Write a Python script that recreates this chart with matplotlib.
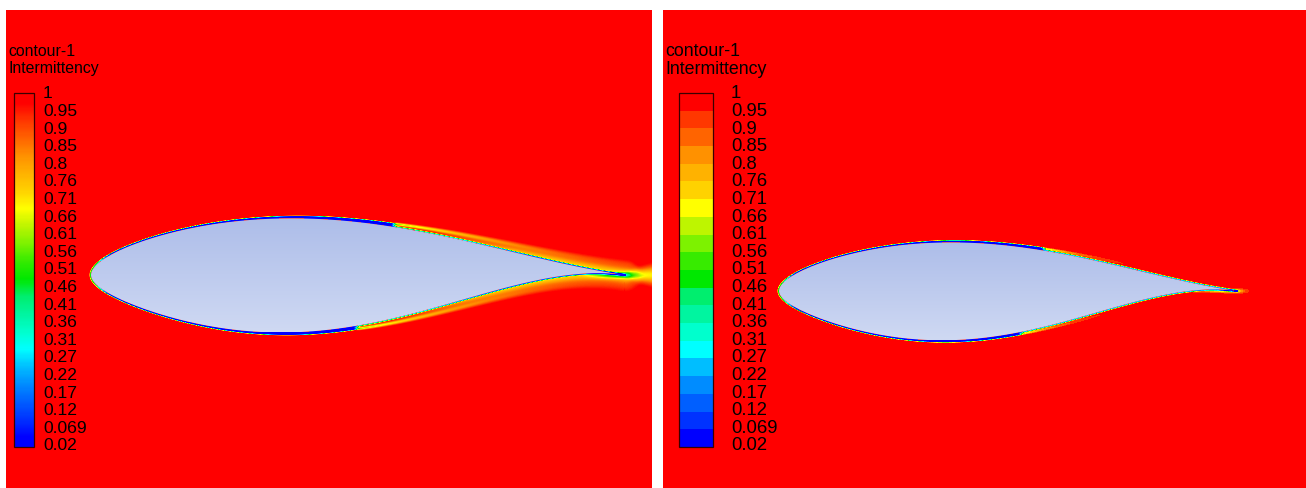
import numpy as np
import matplotlib
matplotlib.use("Agg")
import matplotlib.pyplot as plt
from matplotlib.colors import ListedColormap, LinearSegmentedColormap, BoundaryNorm, Normalize
from matplotlib.patches import Polygon, Rectangle
from matplotlib.path import Path

plt.rcParams['font.family'] = ['Liberation Sans', 'DejaVu Sans']

# ---- legend levels -------------------------------------------------------
levels = [0.02, 0.069, 0.12, 0.17, 0.22, 0.27, 0.31, 0.36, 0.41, 0.46, 0.51,
          0.56, 0.61, 0.66, 0.71, 0.76, 0.8, 0.85, 0.9, 0.95, 1.0]
level_labels = ["0.02", "0.069", "0.12", "0.17", "0.22", "0.27", "0.31", "0.36",
                "0.41", "0.46", "0.51", "0.56", "0.61", "0.66", "0.71", "0.76",
                "0.8", "0.85", "0.9", "0.95", "1"]
legend_title = ["contour-1", "Intermittency"]

# colour of each contour band, lowest first
band_colors = [(0, 0, 255), (0, 50, 255), (0, 95, 255), (0, 140, 255),
               (0, 190, 255), (0, 255, 255), (0, 255, 205), (0, 245, 160),
               (0, 238, 110), (0, 232, 0), (55, 235, 0), (125, 242, 0),
               (190, 245, 0), (255, 255, 0), (255, 210, 0), (255, 178, 0),
               (255, 145, 0), (255, 100, 0), (255, 55, 0), (255, 0, 0)]

# ---- profile geometry (x/c, y/c) -----------------------------------------
upper_x = [0.068, 0.177, 0.286, 0.41, 0.504, 0.57, 0.686, 0.832, 1.0]
upper_y = [0.052, 0.087, 0.100, 0.105, 0.100, 0.092, 0.063, 0.035, 0.0]
lower_x = [0.068, 0.177, 0.286, 0.367, 0.467, 0.541, 0.686, 0.832, 1.0]
lower_y = [-0.052, -0.085, -0.103, -0.109, -0.103, -0.085, -0.046, -0.013, 0.0]

# transition onset (x/c) on the upper / lower surface for the two cases
transition_left = (0.56, 0.49)
transition_right = (0.57, 0.52)

FIG_W, FIG_H = 1306, 488


def smooth(e0, e1, x):
    t = np.clip((x - e0) / (e1 - e0), 0, 1)
    return t * t * (3 - 2 * t)


def fit_surface(xc, yc, xs):
    xc = np.asarray(xc, float)
    yc = np.asarray(yc, float)

    def basis(x):
        return np.column_stack([np.sqrt(x), x, x**2, x**3, x**4])
    w = np.ones_like(xc)
    w[-1] = 10.0
    coef, *_ = np.linalg.lstsq(basis(xc) * w[:, None], yc * w, rcond=None)
    return basis(xs) @ coef


def outline(le, chord):
    xs = 0.5 * (1 - np.cos(np.linspace(0, np.pi, 140)))
    yu = fit_surface(upper_x, upper_y, xs)
    yl = fit_surface(lower_x, lower_y, xs)
    yu[0] = yl[0] = 0.0
    px = np.concatenate([xs, xs[::-1][1:]])
    py = np.concatenate([yu, yl[::-1][1:]])
    sc = px.copy()
    side = np.concatenate([np.ones(len(xs) - 1), -np.ones(len(xs) - 1)])
    return le[0] + chord * px, le[1] - chord * py, sc, side


def nearest_on_outline(qx, qy, sx, sy, sc, side):
    ax_, ay_ = sx[:-1], sy[:-1]
    dx, dy = sx[1:] - ax_, sy[1:] - ay_
    L2 = dx * dx + dy * dy
    ds = sc[1:] - sc[:-1]
    d_out = np.empty(qx.size)
    s_out = np.empty(qx.size)
    side_out = np.empty(qx.size)
    step = 3000
    for i in range(0, qx.size, step):
        P = qx[i:i + step, None]
        Q = qy[i:i + step, None]
        t = np.clip(((P - ax_) * dx + (Q - ay_) * dy) / L2, 0, 1)
        d2 = (P - ax_ - t * dx) ** 2 + (Q - ay_ - t * dy) ** 2
        k = np.argmin(d2, axis=1)
        r = np.arange(k.size)
        d_out[i:i + step] = np.sqrt(d2[r, k])
        s_out[i:i + step] = sc[:-1][k] + t[r, k] * ds[k]
        side_out[i:i + step] = side[k]
    return d_out, s_out, side_out


def intermittency(d, s, side, xw, yw, p):
    s_tr = np.where(side > 0, p['s_tr'][0], p['s_tr'][1])
    u = s - s_tr
    # laminar boundary layer: thin low-intermittency sheet growing to transition
    r = np.clip(s / s_tr, 0, 1)
    th = p['lam_th'][0] + (p['lam_th'][1] - p['lam_th'][0]) * r ** 2
    amp = 0.98 * (0.5 + 0.5 * smooth(0, 0.04, s))
    g_lam = 1 - amp * (1 - smooth(th, th + 1.5, d))
    # turbulent part after onset
    uu = np.clip(u, 0, None)
    g_t = 1 - p['a_in'] * (1 - smooth(0.4, 1.8, d))
    ab, lb, dc0, dc1, wb0, wb1 = p['band']
    dc = dc0 + dc1 * uu
    wb = wb0 + wb1 * uu
    g_t = g_t - ab * np.exp(-uu / lb) * np.exp(-((d - dc) / wb) ** 2)
    ah, rh, wh0, wh1 = p['halo']
    wh = wh0 + wh1 * uu
    g_t = g_t - ah * smooth(0, rh, uu) * np.exp(-(d / wh) ** 2)
    w = smooth(0, 0.015, u)
    g = (1 - w) * g_lam + w * g_t
    # wake behind trailing edge
    aw, Lw, ww0, ww1 = p['wake']
    xp = np.clip(xw, 0, None)
    ww = ww0 + ww1 * xp
    ramp = smooth(-50, 0, xw)
    g = g - ramp * aw * np.exp(-xp / Lw) * np.exp(-(yw / ww) ** 2)
    return np.clip(g, 0.02, 1.0)


panels = [
    dict(box=(6, 652, 10, 488), le=(91, 275), chord=534, s_tr=transition_left,
         lam_th=(0.6, 3.0), a_in=0.6, band=(0.42, 0.2, 3.0, 20.0, 1.3, 6.0),
         halo=(0.28, 0.3, 2.0, 14.0), wake=(0.36, 160.0, 3.0, 0.2),
         smooth_bar=True, bar=(14, 34), lab_x=43, title_x=8,
         title_size=11.4, label_size=12.6),
    dict(box=(663, 1306, 10, 488), le=(779, 291), chord=458, s_tr=transition_right,
         lam_th=(0.6, 2.2), a_in=0.72, band=(0.42, 0.08, 2.0, 10.0, 1.0, 4.0),
         halo=(0.06, 0.2, 1.5, 5.0), wake=(0.38, 6.0, 1.6, 0.12),
         smooth_bar=False, bar=(679, 713), lab_x=731, title_x=665,
         title_size=12.8, label_size=13.3),
]

fig = plt.figure(figsize=(FIG_W / 100, FIG_H / 100), dpi=100)
fig.patch.set_facecolor('white')

rgb = np.array(band_colors) / 255.0
band_cmap = ListedColormap(rgb)
band_norm = BoundaryNorm(levels, band_cmap.N)
centers = (np.arange(20) + 0.5) / 20
smooth_cmap = LinearSegmentedColormap.from_list(
    'fluent', list(zip(np.concatenate([[0], centers, [1]]),
                       np.vstack([rgb[:1], rgb, rgb[-1:]]))))
smooth_norm = Normalize(0.02, 1.0)

for p in panels:
    x0, x1, y0, y1 = p['box']
    ax = fig.add_axes([x0 / FIG_W, 1 - y1 / FIG_H, (x1 - x0) / FIG_W, (y1 - y0) / FIG_H])
    ax.set_xlim(x0, x1)
    ax.set_ylim(y1, y0)
    ax.axis('off')

    cmap, norm = (smooth_cmap, smooth_norm) if p['smooth_bar'] else (band_cmap, band_norm)

    sx, sy, sc, side = outline(p['le'], p['chord'])
    te_x, te_y = sx[len(sx) // 2], sy[len(sy) // 2]

    gx = np.arange(x0, x1) + 0.5
    gy = np.arange(y0, y1) + 0.5
    GX, GY = np.meshgrid(gx, gy)
    field = np.ones_like(GX)

    bx0, bx1 = p['le'][0] - 15, x1
    by0, by1 = sy.min() - 40, sy.max() + 40
    sel = (GX >= bx0) & (GX <= bx1) & (GY >= by0) & (GY <= by1)
    qx, qy = GX[sel], GY[sel]
    d, s, sd = nearest_on_outline(qx, qy, sx, sy, sc, side)
    xw, yw = qx - te_x, qy - te_y
    sd = np.where(qx > te_x, np.sign(te_y - qy + 1e-9), sd)
    vals = intermittency(d, s, sd, xw, yw, p)
    inside = Path(np.column_stack([sx, sy])).contains_points(np.column_stack([qx, qy]))
    vals[inside] = 1.0
    field[sel] = vals

    ax.imshow(field, cmap=cmap, norm=norm, extent=(x0, x1, y1, y0),
              interpolation='nearest', aspect='auto', zorder=1)

    # profile surface with soft vertical shading
    poly = Polygon(np.column_stack([sx, sy]), closed=True, facecolor='none',
                   edgecolor='none', transform=ax.transData)
    ax.add_patch(poly)
    shade = LinearSegmentedColormap.from_list('shade', ['#adbde9', '#cfd9f3'])
    grad = np.linspace(0, 1, 256)[:, None]
    im = ax.imshow(grad, cmap=shade, extent=(sx.min(), sx.max(), sy.max(), sy.min()),
                   aspect='auto', interpolation='bilinear', zorder=2)
    im.set_clip_path(poly)

    # legend bar
    bl, br = p['bar']
    top, bot = 93, 447
    if p['smooth_bar']:
        bar = np.linspace(1.0, 0.02, 300)[:, None]
        ax.imshow(bar, cmap=cmap, norm=norm, extent=(bl, br, bot, top),
                  aspect='auto', interpolation='bilinear', zorder=3)
    else:
        mids = [(levels[i] + levels[i + 1]) / 2 for i in range(20)][::-1]
        bar = np.repeat(np.array(mids), 18)[:, None]
        ax.imshow(bar, cmap=cmap, norm=norm, extent=(bl, br, bot, top),
                  aspect='auto', interpolation='nearest', zorder=3)
    ax.add_patch(Rectangle((bl, top), br - bl, bot - top, facecolor='none',
                           edgecolor='#3a0000', lw=0.9, zorder=4))
    n = len(level_labels)
    for i, lab in enumerate(level_labels):
        yy = 446 - i * (446 - 94) / (n - 1)
        ax.text(p['lab_x'], yy, lab, fontsize=p['label_size'], color='black',
                ha='left', va='center', zorder=5)
    ax.text(p['title_x'], 51, legend_title[0], fontsize=p['title_size'],
            color='black', ha='left', va='center', zorder=5)
    ax.text(p['title_x'], 69, legend_title[1], fontsize=p['title_size'],
            color='black', ha='left', va='center', zorder=5)

fig.savefig('out.png', dpi=100, facecolor='white')
